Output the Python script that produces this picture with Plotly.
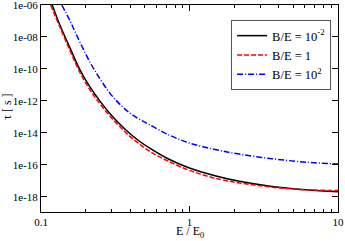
import plotly.graph_objects as go

E_black = [0.119, 0.134, 0.157, 0.183, 0.213, 0.249, 0.290, 0.339, 0.395, 0.461,
           0.540, 0.711, 1.0, 1.51, 2.17, 3.61, 6.07, 10.0]
tau_black = [1.0e-6, 5.6e-8, 2.0e-9, 8.7e-11, 7.8e-12, 1.0e-12, 1.7e-13, 3.6e-14, 9.5e-15, 3.0e-15,
             1.1e-15, 2.5e-16, 6.3e-17, 2.0e-17, 9.3e-18, 4.4e-18, 2.75e-18, 2.04e-18]

E_red = [0.116, 0.134, 0.157, 0.183, 0.213, 0.249, 0.290, 0.339, 0.395, 0.461,
         0.540, 0.711, 1.0, 1.51, 2.17, 3.61, 4.68, 6.07, 10.0]
tau_red = [1.0e-6, 4.2e-8, 1.35e-9, 6.0e-11, 5.2e-12, 6.8e-13, 1.17e-13, 2.5e-14, 6.3e-15, 2.0e-15,
           6.9e-16, 1.78e-16, 4.5e-17, 1.41e-17, 7.4e-18, 4.0e-18, 3.24e-18, 2.75e-18, 2.45e-18]

E_blue = [0.138, 0.157, 0.175, 0.213, 0.249, 0.290, 0.339, 0.395, 0.461, 0.540,
          0.735, 1.0, 1.51, 2.17, 3.61, 6.07, 10.0]
tau_blue = [1.0e-6, 1.0e-7, 1.12e-8, 2.8e-10, 2.5e-11, 3.2e-12, 6.3e-13, 1.78e-13, 7.1e-14, 3.2e-14,
            7.1e-15, 2.3e-15, 8.9e-16, 4.7e-16, 2.4e-16, 1.48e-16, 1.12e-16]

names = ["B/E = 10<sup>-2</sup>", "B/E = 1", "B/E = 10<sup>2</sup>"]

x_tickvals = [0.1, 1, 10]
x_ticktext = ["0.1", "1", "10"]
x_minor = [0.2, 0.3, 0.4, 0.5, 0.6, 0.7, 0.8, 0.9, 2, 3, 4, 5, 6, 7, 8, 9]
y_tickvals = [1e-18, 1e-16, 1e-14, 1e-12, 1e-10, 1e-08, 1e-06]
y_ticktext = ["1e-18", "1e-16", "1e-14", "1e-12", "1e-10", "1e-08", "1e-06"]
x_title = "E / E<sub>0</sub>"
y_title = "τ [ s ]"

FONT = "Liberation Serif"

fig = go.Figure()
fig.add_trace(go.Scatter(x=E_black, y=tau_black, mode="lines", name=names[0],
                         line=dict(color="black", width=1.5, shape="spline", smoothing=1.0)))
fig.add_trace(go.Scatter(x=E_red, y=tau_red, mode="lines", name=names[1],
                         line=dict(color="#ff0000", width=1.5, dash="5px,2px", shape="spline", smoothing=1.0)))
fig.add_trace(go.Scatter(x=E_blue, y=tau_blue, mode="lines", name=names[2],
                         line=dict(color="#0000ff", width=1.5, dash="6px,2px,1px,2px", shape="spline", smoothing=1.0)))

axis_common = dict(showline=True, linecolor="black", linewidth=1, mirror="ticks",
                   ticks="inside", tickcolor="black", ticklen=6, showgrid=False, zeroline=False,
                   automargin=False, ticklabeloverflow="allow",
                   tickfont=dict(family=FONT, size=11, color="black"))

fig.update_xaxes(type="log", range=[-1, 1.0005], tickvals=x_tickvals, ticktext=x_ticktext,
                 minor=dict(tickvals=x_minor, ticks="inside", ticklen=3, tickcolor="black"),
                 **axis_common)
fig.update_yaxes(type="log", range=[-18.95, -5.999], tickvals=y_tickvals, ticktext=y_ticktext,
                 **axis_common)

fig.add_annotation(text=x_title, xref="paper", yref="paper", x=0.5, y=-0.098,
                   xanchor="center", yanchor="middle", showarrow=False, borderpad=0,
                   font=dict(family=FONT, size=12, color="black"))
fig.add_annotation(text=y_title, xref="paper", yref="paper", x=-0.113, y=0.51,
                   xanchor="center", yanchor="middle", showarrow=False, textangle=-90,
                   font=dict(family=FONT, size=12, color="black"))

fig.update_layout(
    width=345, height=241,
    margin=dict(l=41, r=7, t=5, b=29),
    plot_bgcolor="white", paper_bgcolor="white",
    font=dict(family=FONT, size=11, color="black"),
    legend=dict(x=0.64, y=0.9275, xanchor="left", yanchor="top",
                bordercolor="#555555", borderwidth=1, bgcolor="white",
                font=dict(family=FONT, size=12.5, color="black"),
                itemwidth=30, tracegroupgap=0),
    showlegend=True,
)

fig.write_html("out.html", config={"displayModeBar": False},
               post_script="document.body.style.margin='0';document.body.style.padding='0';")
